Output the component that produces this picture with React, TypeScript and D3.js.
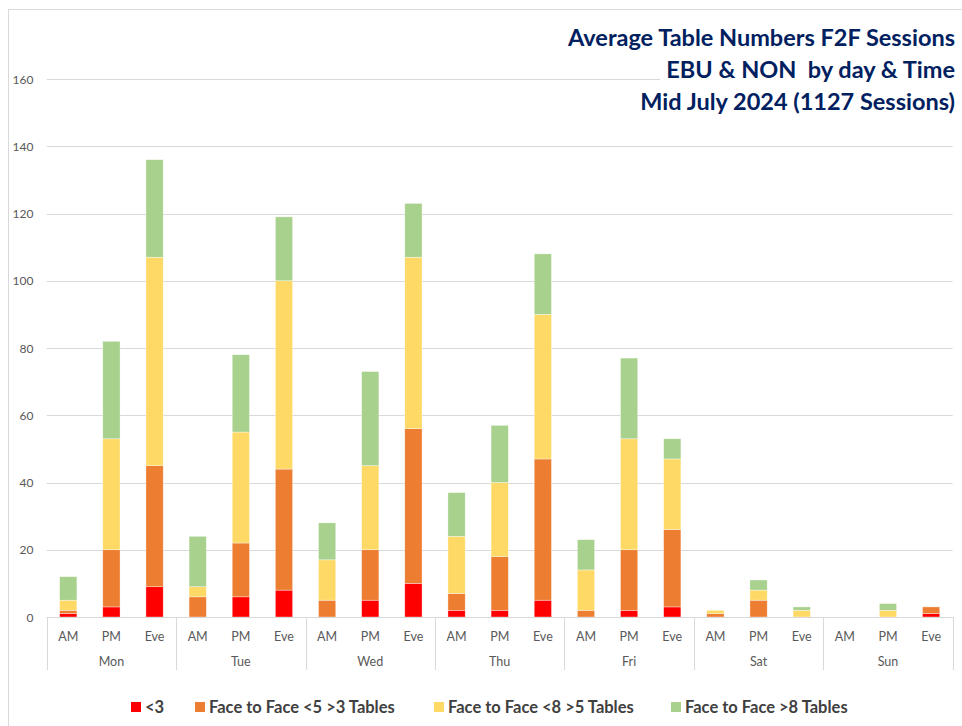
import React from "react";
import * as d3 from "d3";

const days = ["Mon", "Tue", "Wed", "Thu", "Fri", "Sat", "Sun"];
const times = ["AM", "PM", "Eve"];

const seriesNames = [
    "<3",
    "Face to Face <5 >3 Tables",
    "Face to Face <8 >5 Tables",
    "Face to Face >8 Tables",
];
const seriesColors = ["#FF0000", "#ED7D31", "#FFD966", "#A9D18E"];

// one value per day/time, Mon AM .. Sun Eve
const under3 = [1, 3, 9, 0, 6, 8, 0, 5, 10, 2, 2, 5, 0, 2, 3, 0, 0, 0, 0, 0, 1];
const from3to5 = [1, 17, 36, 6, 16, 36, 5, 15, 46, 5, 16, 42, 2, 18, 23, 1, 5, 0, 0, 0, 2];
const from5to8 = [3, 33, 62, 3, 33, 56, 12, 25, 51, 17, 22, 43, 12, 33, 21, 1, 3, 2, 0, 2, 0];
const over8 = [7, 29, 29, 15, 23, 19, 11, 28, 16, 13, 17, 18, 9, 24, 6, 0, 3, 1, 0, 2, 0];

const yTicks = [0, 20, 40, 60, 80, 100, 120, 140, 160];

const titleLines = [
    "Average Table Numbers F2F Sessions",
    "EBU & NON  by day & Time",
    "Mid July 2024 (1127 Sessions)",
];

const W = 962;
const H = 726;
const left = 46.7;
const right = 952.7;
const top = 79;
const bottom = 617;
const FONT = "Lato, 'Open Sans', sans-serif";

export default function App() {
    const titleRefs = React.useRef<(SVGTextElement | null)[]>([]);
    const [titleWidths, setTitleWidths] = React.useState<number[]>([0, 0, 0]);

    React.useLayoutEffect(() => {
        setTitleWidths(titleRefs.current.map(t => (t ? t.getComputedTextLength() : 0)));
    }, []);

    const rows = days.flatMap((day, di) =>
        times.map((time, ti) => {
            const i = di * 3 + ti;
            return {
                key: `${day}-${time}`,
                day,
                time,
                s0: under3[i],
                s1: from3to5[i],
                s2: from5to8[i],
                s3: over8[i],
            };
        })
    );

    const x = d3.scaleBand()
        .domain(rows.map(r => r.key))
        .range([left, right])
        .paddingInner(0.6)
        .paddingOuter(0.3);

    const y = d3.scaleLinear().domain([0, 160]).range([bottom, top]);

    const stacked = d3.stack().keys(["s0", "s1", "s2", "s3"])(rows as any);

    const step = (right - left) / rows.length;
    const dayEdges = days.map((_, di) => left + di * 3 * step).concat([right]);

    return (
        <svg
            width={W}
            height={H}
            style={{ position: "absolute", left: 0, top: 0, background: "#fff" }}
            fontFamily={FONT}
        >
            <rect x={8.5} y={9.5} width={1000} height={1000} fill="#fff" stroke="#d9d9d9" />

            {/* gridlines */}
            {yTicks.map(t => (
                <line key={t} x1={left} x2={right} y1={Math.round(y(t)) + 0.5} y2={Math.round(y(t)) + 0.5}
                    stroke="#d9d9d9" strokeWidth={1} />
            ))}
            {yTicks.map(t => (
                <text key={`l${t}`} x={33.5} y={y(t)} textAnchor="end" dominantBaseline="central"
                    fontSize="12px" fill="#595959">{t}</text>
            ))}

            {/* title with white box behind each line */}
            {titleLines.map((line, i) => (
                <rect key={`tb${i}`} x={955 - titleWidths[i] - 6} y={26 + i * 32} width={titleWidths[i] + 8}
                    height={26} fill="#fff" />
            ))}
            {titleLines.map((line, i) => (
                <text
                    key={`t${i}`}
                    ref={el => { titleRefs.current[i] = el; }}
                    x={955}
                    y={46 + i * 32}
                    textAnchor="end"
                    fontSize="23.5px"
                    fontWeight="bold"
                    fill="#002060"
                    style={{ whiteSpace: "pre" }}
                >
                    {line}
                </text>
            ))}

            {/* bars */}
            {stacked.map((layer, si) => (
                <g key={si} fill={seriesColors[si]}>
                    {layer.map((d, i) => {
                        const h = y(d[0]) - y(d[1]);
                        if (h <= 0) return null;
                        return (
                            <rect key={i} x={x(rows[i].key)} y={y(d[1])} width={x.bandwidth()} height={h}
                                stroke="#fff" strokeWidth={0.6} strokeOpacity={0.6} />
                        );
                    })}
                </g>
            ))}

            {/* category axis */}
            <line x1={left} x2={right} y1={bottom + 0.5} y2={bottom + 0.5} stroke="#d9d9d9" />
            {dayEdges.map((e, i) => (
                <line key={`e${i}`} x1={Math.round(e) + 0.5} x2={Math.round(e) + 0.5} y1={bottom} y2={670}
                    stroke="#d9d9d9" />
            ))}
            {rows.map(r => (
                <text key={`c${r.key}`} x={(x(r.key) as number) + x.bandwidth() / 2} y={636}
                    textAnchor="middle" dominantBaseline="central" fontSize="12.5px" fill="#595959">
                    {r.time}
                </text>
            ))}
            {days.map((d, di) => (
                <text key={`d${d}`} x={(dayEdges[di] + dayEdges[di + 1]) / 2} y={661}
                    textAnchor="middle" dominantBaseline="central" fontSize="12.5px" fill="#595959">
                    {d}
                </text>
            ))}

            {/* legend */}
            {seriesNames.map((name, i) => {
                const lx = [131, 195, 434, 671][i];
                return (
                    <g key={name} transform={`translate(${lx},707)`}>
                        <rect x={0} y={-5} width={10} height={10} fill={seriesColors[i]} />
                        <text x={14} y={0} dominantBaseline="central" fontSize="16.5px" fontWeight="bold"
                            fill="#404040">{name}</text>
                    </g>
                );
            })}
        </svg>
    );
}
